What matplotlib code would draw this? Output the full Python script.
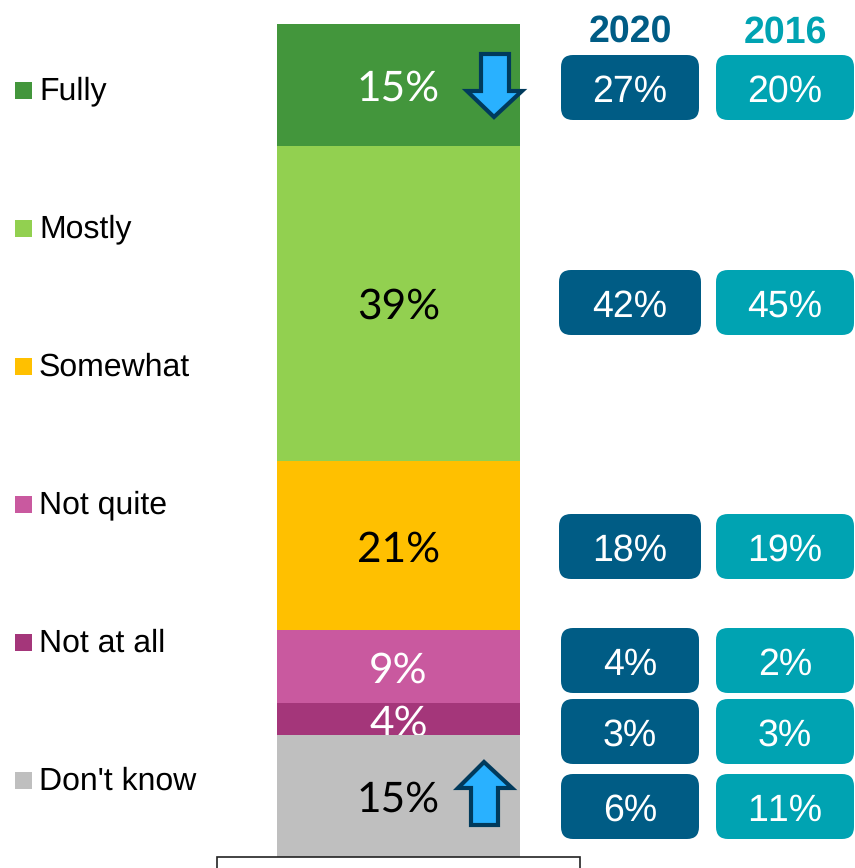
import matplotlib
matplotlib.use("Agg")
import matplotlib.pyplot as plt
from matplotlib.patches import FancyBboxPatch, Polygon, Rectangle

plt.rcParams["text.hinting"] = "none"
plt.rcParams["text.kerning_factor"] = 16  # no kerning, the "11%" closes up otherwise

W, H = 855, 868

categories = ["Fully", "Mostly", "Somewhat", "Not quite", "Not at all", "Don't know"]
values_now = [15, 39, 21, 9, 4, 15]
labels_2020 = ["27%", "42%", "18%", "4%", "3%", "6%"]
labels_2016 = ["20%", "45%", "19%", "2%", "3%", "11%"]
colors = ["#43963C", "#92D050", "#FFC000", "#C9599F", "#A4367A", "#BFBFBF"]
label_colors = ["white", "black", "black", "white", "white", "black"]

BLUE = "#005C85"
TEAL = "#00A3B2"
ARROW_FILL = "#29B1FF"
ARROW_EDGE = "#003A5C"

# layout in pixels
box_tops = [55, 270, 514, 628, 699, 774]
box_2020_x = [(561, 699), (559, 701), (559, 701), (561, 699), (561, 699), (561, 699)]
legend_y = [90, 228, 366, 504, 642, 780]

fig = plt.figure(figsize=(W / 100, H / 100), dpi=100)

# the stacked bar, top segment first
ax = fig.add_axes([277 / W, 1 - 856.7 / H, 243 / W, 832.4 / H])
ax.set_xlim(-0.5, 0.5)
ax.set_ylim(sum(values_now), 0)
ax.axis("off")
bottom = 0
for i, v in enumerate(values_now):
    ax.bar(0, v, bottom=bottom, width=1, color=colors[i], linewidth=0, zorder=2 * i + 1)
    # lower segments sit above the previous label, this cuts the 4% like the original
    ax.text(0, bottom + v / 2 + 0.5, f"{v}%", ha="center", va="center", fontsize=30.5,
            family=["Lato", "DejaVu Sans"], color=label_colors[i], zorder=2 * i + 2)
    bottom += v

# everything else is placed on a pixel overlay
ov = fig.add_axes([0, 0, 1, 1])
ov.set_xlim(0, W)
ov.set_ylim(H, 0)
ov.axis("off")
ov.patch.set_alpha(0)

sans = ["Liberation Sans", "DejaVu Sans"]


def rounded_box(x0, x1, y0, y1, color, text):
    ov.add_patch(FancyBboxPatch((x0 + 12, y0 + 12), x1 - x0 - 24, y1 - y0 - 24,
                                boxstyle="round,pad=12,rounding_size=12",
                                facecolor=color, edgecolor="none"))
    ov.text((x0 + x1) / 2, (y0 + y1) / 2 + 4.5, text, ha="center", va="center",
            fontsize=27, color="white", family=sans)


for i, cat in enumerate(categories):
    y = legend_y[i]
    ov.add_patch(Rectangle((15, y - 8), 17, 17, facecolor=colors[i], edgecolor="none"))
    ov.text(39, y + 1, cat, ha="left", va="center", fontsize=23, color="black", family=sans)

    x0, x1 = box_2020_x[i]
    rounded_box(x0, x1, box_tops[i], box_tops[i] + 65, BLUE, labels_2020[i])
    rounded_box(716, 854, box_tops[i], box_tops[i] + 65, TEAL, labels_2016[i])

ov.text(630, 32, "2020", ha="center", va="center", fontsize=27, fontweight="bold",
        color=BLUE, family=sans)
ov.text(785, 33, "2016", ha="center", va="center", fontsize=27, fontweight="bold",
        color=TEAL, family=sans)

# change arrows
down_arrow = [(481, 54), (509, 54), (509, 91), (522, 91), (494, 117), (467, 91), (481, 91)]
up_arrow = [(484, 762), (512, 788), (498, 788), (498, 825), (471, 825), (471, 788), (458, 788)]
for pts in (down_arrow, up_arrow):
    ov.add_patch(Polygon(pts, closed=True, facecolor=ARROW_FILL, edgecolor=ARROW_EDGE,
                         linewidth=3, joinstyle="miter"))

# empty box cut off by the bottom edge
ov.add_patch(Rectangle((217, 856.5), 363, 30, facecolor="white", edgecolor="#222222",
                       linewidth=1.2))

fig.savefig("out.png", dpi=100)
